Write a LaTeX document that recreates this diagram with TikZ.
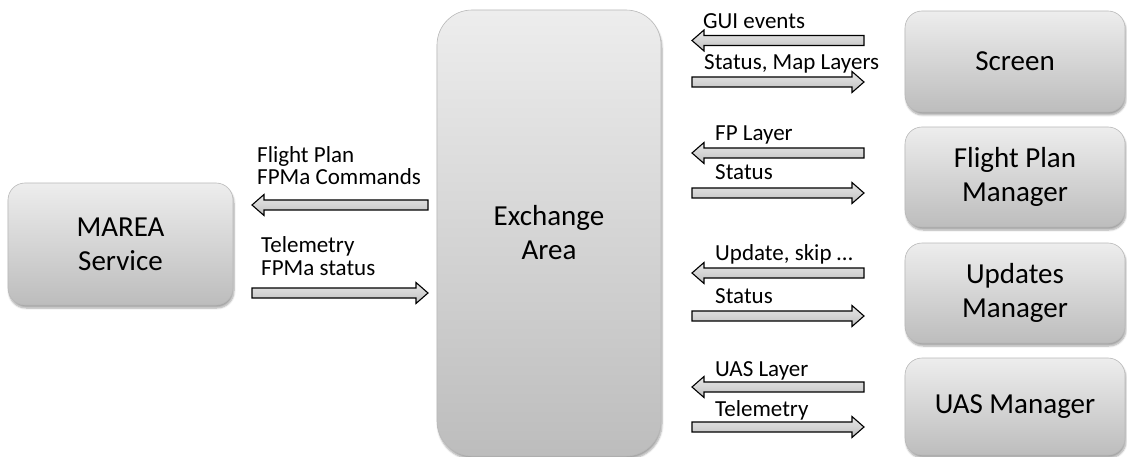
\documentclass[tikz,border=0pt]{standalone}
\usepackage{fontspec}
\setmainfont{Carlito}
\usetikzlibrary{calc,shadows.blur}

\tikzset{
  unit box/.style={draw=gray!55, line width=0.6pt,
    top color=gray!14, bottom color=gray!52,
    rounded corners=17pt, inner sep=0pt, align=center,
    blur shadow={shadow xshift=1pt, shadow yshift=-3pt,
      shadow blur steps=6, shadow opacity=35},
    font=\fontsize{29}{34}\selectfont},
  flow label/.style={anchor=base west, inner sep=0pt, align=left,
    font=\fontsize{23}{22.5}\selectfont},
  flow body/.style={draw=black, line width=1.1pt, line join=miter,
    top color=gray!18, bottom color=gray!50},
}

% Block arrow from tail #1 to tip #2 (horizontal)
\newcommand\flowarrow[2]{%
  \coordinate (hb) at ($(#2)!12pt!(#1)$);
  \path[flow body]
    ($(#1)+(0,5pt)$) -- ($(hb)+(0,5pt)$) -- ($(hb)+(0,10.5pt)$) --
    (#2) -- ($(hb)+(0,-10.5pt)$) -- ($(hb)+(0,-5pt)$) --
    ($(#1)+(0,-5pt)$) -- cycle;}

\begin{document}
\begin{tikzpicture}[x=1pt,y=-1pt]
\useasboundingbox (0,0) rectangle (1127,457);

% components
\node[unit box, minimum width=225, minimum height=122] (marea) at (120.5,244) {MAREA\\Service};
\node[unit box, rounded corners=35pt, minimum width=224, minimum height=446] (exch) at (549,233) {Exchange\\Area};
\node[unit box, minimum width=220, minimum height=101] (screen) at (1015,61.5) {Screen};
\node[unit box, minimum width=220, minimum height=100] (fpm) at (1015,177) {Flight Plan\\Manager};
\node[unit box, minimum width=220, minimum height=100] (upd) at (1015,293) {Updates\\Manager};
\node[unit box, minimum width=220, minimum height=97] (uas) at (1015,406.5) {UAS Manager};

% arrow end points
\coordinate (ma) at (428,205);   \coordinate (mb) at (252,205);
\coordinate (mc) at (252,293);   \coordinate (md) at (428,293);
\coordinate (sa) at (864,40.5);  \coordinate (sb) at (692,40.5);
\coordinate (sc) at (692,82);    \coordinate (sd) at (864,82);
\coordinate (fa) at (864,153);   \coordinate (fb) at (692,153);
\coordinate (fc) at (692,193);   \coordinate (fd) at (864,193);
\coordinate (ua) at (864,273);   \coordinate (ub) at (692,273);
\coordinate (uc) at (692,316);   \coordinate (ud) at (864,316);
\coordinate (va) at (864,387);   \coordinate (vb) at (692,387);
\coordinate (vc) at (692,427);   \coordinate (vd) at (864,427);

\flowarrow{ma}{mb}
\flowarrow{mc}{md}
\flowarrow{sa}{sb}
\flowarrow{sc}{sd}
\flowarrow{fa}{fb}
\flowarrow{fc}{fd}
\flowarrow{ua}{ub}
\flowarrow{uc}{ud}
\flowarrow{va}{vb}
\flowarrow{vc}{vd}

% labels (base anchor sits on the last line)
\node[flow label] (l1) at (257,185) {Flight Plan\\FPMa Commands};
\node[flow label] (l2) at (261,275) {Telemetry\\FPMa status};
\node[flow label] (l3) at (703,29) {GUI events};
\node[flow label] (l4) at (704,70) {Status, Map Layers};
\node[flow label] (l5) at (715,141) {FP Layer};
\node[flow label] (l6) at (715,180) {Status};
\node[flow label] (l7) at (715,261) {Update, skip …};
\node[flow label] (l8) at (715,303) {Status};
\node[flow label] (l9) at (715,376) {UAS Layer};
\node[flow label] (l10) at (715,416) {Telemetry};
\end{tikzpicture}
\end{document}
